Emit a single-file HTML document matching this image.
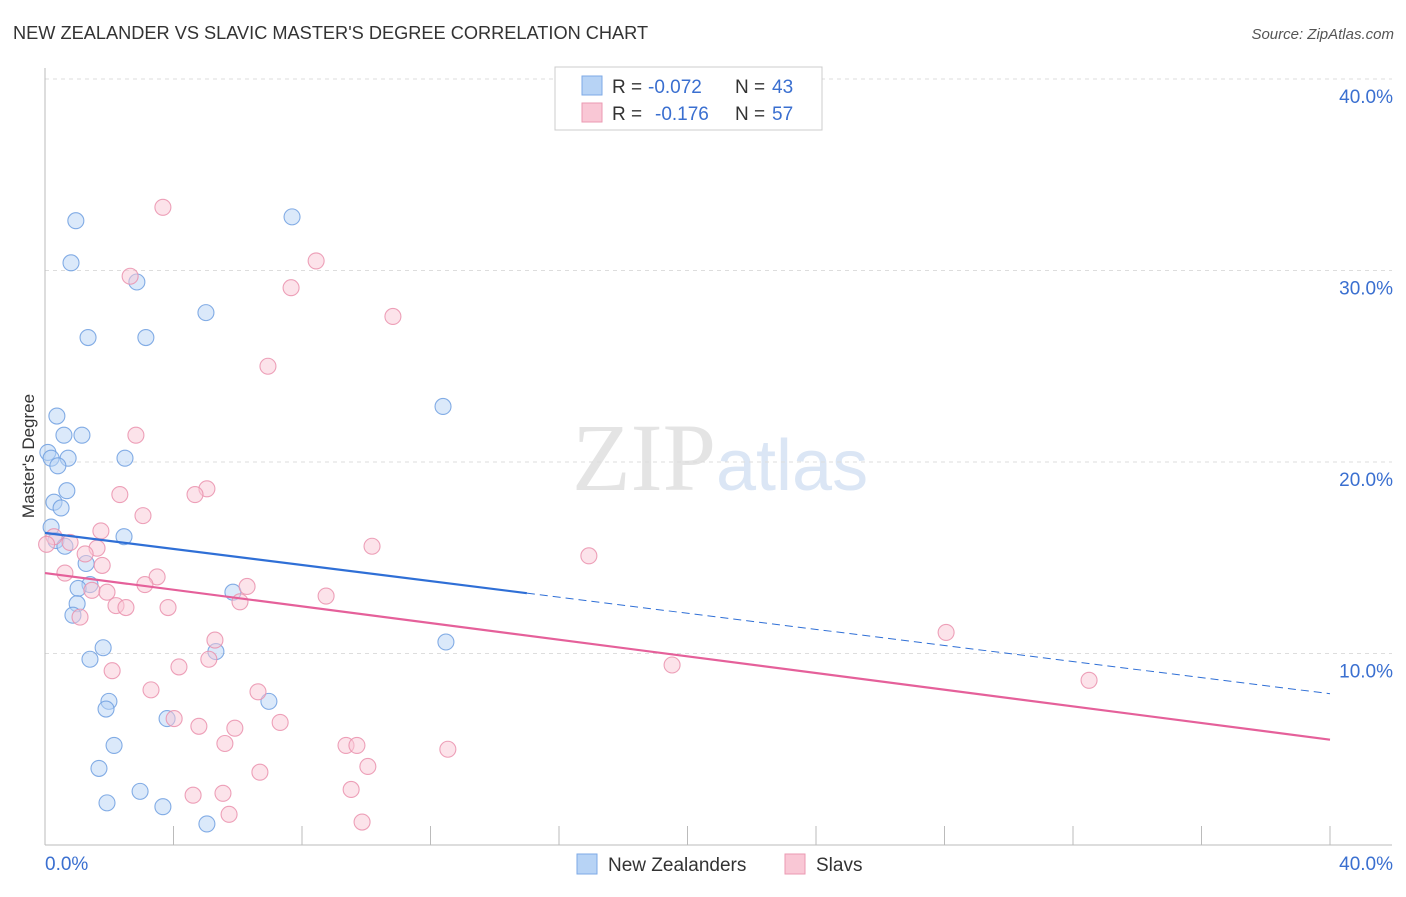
<!DOCTYPE html>
<html><head><meta charset="utf-8"><style>
body{margin:0;background:#fff;font-family:"Liberation Sans",sans-serif;}
</style></head><body>
<svg width="1406" height="892" xmlns="http://www.w3.org/2000/svg" style="font-family:'Liberation Sans',sans-serif">
<text x="13" y="39" font-size="18.2" fill="#333">NEW ZEALANDER VS SLAVIC MASTER'S DEGREE CORRELATION CHART</text>
<text x="1394" y="39" font-size="15" fill="#555" text-anchor="end" font-style="italic">Source: ZipAtlas.com</text>
<text x="716" y="490" font-size="96" fill="#e4e4e4" text-anchor="end" font-family="Liberation Serif">ZIP</text>
<text x="716" y="490" font-size="72" fill="#dbe6f5">atlas</text>
<g id="grid"></g>
<g id="axes"></g>
<g id="pts"></g>
<text transform="translate(34,456) rotate(-90)" font-size="17" fill="#333" text-anchor="middle">Master's Degree</text>
<g>
<rect x="555" y="67" width="267" height="63" fill="#fff" stroke="#ccc"/>
<rect x="582" y="76" width="20" height="19" fill="#b7d3f5" stroke="#7eaae6"/>
<rect x="582" y="103" width="20" height="19" fill="#f9c7d5" stroke="#eb9ab2"/>
<text y="93" font-size="19" fill="#333"><tspan x="612">R =</tspan><tspan x="648" fill="#3a6fd0">-0.072</tspan><tspan x="735">N =</tspan><tspan x="772" fill="#3a6fd0">43</tspan></text>
<text y="120" font-size="19" fill="#333"><tspan x="612">R =</tspan><tspan x="655" fill="#3a6fd0">-0.176</tspan><tspan x="735">N =</tspan><tspan x="772" fill="#3a6fd0">57</tspan></text>
</g>
<g>
<rect x="577" y="854" width="20" height="20" fill="#b7d3f5" stroke="#7eaae6"/>
<text x="608" y="871" font-size="19" fill="#333">New Zealanders</text>
<rect x="785" y="854" width="20" height="20" fill="#f9c7d5" stroke="#eb9ab2"/>
<text x="816" y="871" font-size="19" fill="#333">Slavs</text>
</g>
</svg>
<script>
const yTicks=[10,20,30,40];
const yTickLabels=["10.0%","20.0%","30.0%","40.0%"];
const blueX=[0.96,0.81,2.86,7.69,1.34,3.14,5.01,12.39,0.37,0.59,1.15,0.09,0.19,0.72,2.49,0.40,0.68,0.28,0.50,0.19,2.46,0.34,0.62,1.28,1.40,1.03,5.85,1.00,0.87,1.81,5.32,12.48,1.40,1.99,6.97,1.90,3.80,2.15,1.68,2.96,1.93,3.67,5.04];
const blueY=[32.6,30.4,29.4,32.8,26.5,26.5,27.8,22.9,22.4,21.4,21.4,20.5,20.2,20.2,20.2,19.8,18.5,17.9,17.6,16.6,16.1,15.9,15.6,14.7,13.6,13.4,13.2,12.6,12.0,10.3,10.1,10.6,9.7,7.5,7.5,7.1,6.6,5.2,4.0,2.8,2.2,2.0,1.1];
const pinkX=[3.67,8.44,2.65,7.66,10.83,6.94,2.83,5.04,4.67,2.33,3.05,1.74,10.18,16.93,0.28,0.78,1.62,1.25,1.78,0.62,3.49,3.11,1.46,6.29,1.93,8.75,2.21,2.52,3.83,6.07,1.09,28.05,5.29,5.10,4.17,19.52,2.09,32.5,3.30,6.63,4.02,7.32,4.79,5.91,5.60,9.37,9.71,12.54,10.05,6.69,9.53,4.61,5.54,5.73,9.87,0.05];
const pinkY=[33.3,30.5,29.7,29.1,27.6,25.0,21.4,18.6,18.3,18.3,17.2,16.4,15.6,15.1,16.1,15.8,15.5,15.2,14.6,14.2,14.0,13.6,13.3,13.5,13.2,13.0,12.5,12.4,12.4,12.7,11.9,11.1,10.7,9.7,9.3,9.4,9.1,8.6,8.1,8.0,6.6,6.4,6.2,6.1,5.3,5.2,5.2,5.0,4.1,3.8,2.9,2.6,2.7,1.6,1.2,15.7];
const blueTrend=[16.3,7.9], blueSolidEnd=15.0;
const pinkTrend=[14.2,5.5];
const X=v=>45+v*32.125, Y=v=>845-v*19.15;
const NS="http://www.w3.org/2000/svg";
function mk(t,a,p){const e=document.createElementNS(NS,t);for(const k in a)e.setAttribute(k,a[k]);p.appendChild(e);return e;}
const grid=document.getElementById('grid'),axes=document.getElementById('axes'),pts=document.getElementById('pts');
yTicks.forEach((t,i)=>{
 const l=mk('line',{x1:45,x2:1392,y1:Y(t),y2:Y(t),stroke:'#ddd','stroke-dasharray':'4,4'},grid);
 
 
 const tx=mk('text',{x:1393,y:Y(t)+24,'font-size':19,fill:'#3a6fd0','text-anchor':'end'},axes);
 tx.textContent=yTickLabels[i];
 
 
});
let a=mk('line',{x1:45,x2:45,y1:68,y2:845,stroke:'#bbb'},axes);


a=mk('line',{x1:45,x2:1392,y1:845,y2:845,stroke:'#bbb'},axes);


for(let i=1;i<=10;i++){const t=mk('line',{x1:X(i*4),x2:X(i*4),y1:826,y2:845,stroke:'#bbb'},axes);
 
 }
[["0.0%",45,'start'],["40.0%",1393,'end']].forEach(d=>{const t=mk('text',{x:d[1],y:870,'font-size':19,fill:'#3a6fd0','text-anchor':d[2]},axes);t.textContent=d[0];
 
 });
function dots(xs,ys,fill,stroke,name){xs.forEach((x,i)=>{const c=mk('circle',{cx:X(x),cy:Y(ys[i]),r:8,fill:fill,'fill-opacity':0.5,stroke:stroke,'stroke-width':1.1,'stroke-opacity':0.85},pts);
 
 });}
dots(blueX,blueY,'#b7d3f5','#6f9fe0','new-zealander-point');
dots(pinkX,pinkY,'#f9c7d5','#ea91ad','slav-point');
const bAt=x=>blueTrend[0]+(blueTrend[1]-blueTrend[0])*x/40;
let l=mk('line',{x1:X(0),y1:Y(bAt(0)),x2:X(blueSolidEnd),y2:Y(bAt(blueSolidEnd)),stroke:'#2f6fd6','stroke-width':2.2},pts);


l=mk('line',{x1:X(blueSolidEnd),y1:Y(bAt(blueSolidEnd)),x2:X(40),y2:Y(bAt(40)),stroke:'#2f6fd6','stroke-width':1,'stroke-dasharray':'8,5'},pts);


l=mk('line',{x1:X(0),y1:Y(pinkTrend[0]),x2:X(40),y2:Y(pinkTrend[1]),stroke:'#e5609a','stroke-width':2.2},pts);


</script>
</body></html>
